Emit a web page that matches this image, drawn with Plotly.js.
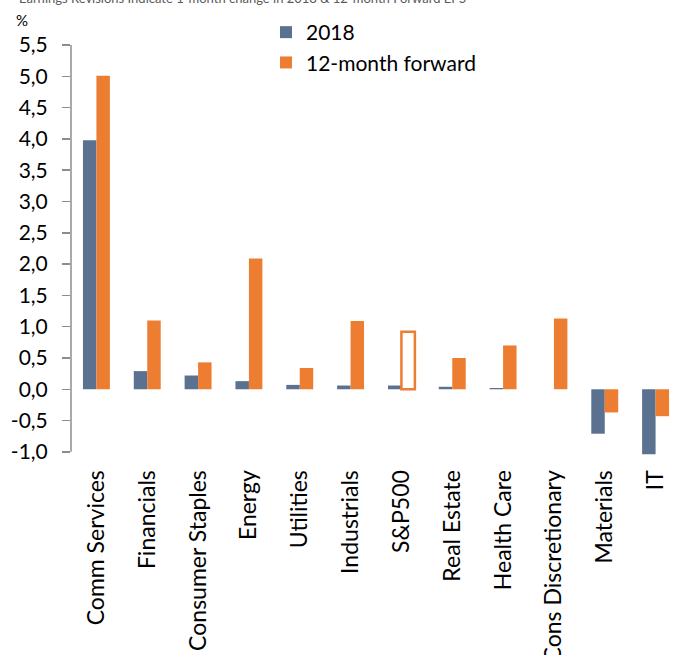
<!DOCTYPE html>
<html>
<head>
<meta charset="utf-8">
<script src="https://cdn.plot.ly/plotly-3.0.1.min.js"></script>
<style>
  html, body { margin: 0; padding: 0; background: #ffffff; }
  #chart { width: 681px; height: 655px; }
</style>
</head>
<body>
<div id="chart"></div>
<script>
// Sector EPS revisions, % change over one month
const sectors = [
  'Comm Services', 'Financials', 'Consumer Staples', 'Energy', 'Utilities',
  'Industrials', 'S&P500', 'Real Estate', 'Health Care', 'Cons Discretionary',
  'Materials', 'IT'
];
const eps2018 = [3.98, 0.29, 0.22, 0.13, 0.07, 0.06, 0.06, 0.04, 0.02, 0.0, -0.71, -1.04];
const eps12mFwd = [5.01, 1.10, 0.43, 2.09, 0.34, 1.09, 0.92, 0.50, 0.70, 1.13, -0.37, -0.43];
const yTicks = [-1.0, -0.5, 0.0, 0.5, 1.0, 1.5, 2.0, 2.5, 3.0, 3.5, 4.0, 4.5, 5.0, 5.5];
const yTickText = yTicks.map(v => v.toFixed(1).replace('.', ','));

const FONT = 'Lato, "Open Sans", sans-serif';
const BLUE = '#5b7190';
const ORANGE = '#ed7d31';
const AXIS_GREY = '#8c8c8c';

// The index average is drawn as a hollow bar
const fwdFill = sectors.map(s => (s === 'S&P500' ? '#ffffff' : ORANGE));
const fwdLine = sectors.map(s => (s === 'S&P500' ? 2.5 : 0));

// Axis runs from -1 to 5.5; a little room below lets the deepest bar show in full
const yAxisLow = -1.0, yAxisHigh = 5.5;
const yMin = -1.05, yMax = 5.5;
const plotTop = 45, plotBottom = 200, plotH = 655 - plotTop - plotBottom, plotL = 71, plotW = 610;

const idx = sectors.map((_, i) => i);
const boundaries = [-0.5].concat(idx.map(i => i + 0.5));

const traces = [
  {
    type: 'bar', name: '2018', x: sectors, y: eps2018,
    marker: { color: BLUE, line: { width: 0 } }
  },
  {
    type: 'bar', name: '12-month forward', x: sectors, y: eps12mFwd,
    marker: { color: fwdFill, line: { color: ORANGE, width: fwdLine } }
  }
];

const layout = {
  width: 681, height: 655,
  margin: { l: plotL, r: 0, t: plotTop, b: plotBottom },
  paper_bgcolor: '#ffffff', plot_bgcolor: '#ffffff',
  font: { family: FONT, size: 20, color: '#000000' },
  barmode: 'group', bargap: 0.47, bargroupgap: 0,
  showlegend: true,
  legend: {
    x: (266 - plotL) / plotW, y: 1 + (plotTop - 12) / plotH, xanchor: 'left', yanchor: 'top',
    font: { family: FONT, size: 21, color: '#000000' },
    tracegroupgap: 0, itemclick: false, bgcolor: 'rgba(0,0,0,0)'
  },
  xaxis: {
    type: 'category', categoryorder: 'array', categoryarray: sectors,
    range: [-0.5, sectors.length - 0.5],
    showline: false, showgrid: false, zeroline: false,
    ticks: 'outside', ticklen: 5, tickcolor: 'rgba(0,0,0,0)',
    tickangle: -90, tickfont: { family: FONT, size: 23, color: '#000000' },
    fixedrange: true
  },
  xaxis2: {
    overlaying: 'x', anchor: 'free', position: (0 - yMin) / (yMax - yMin),
    type: 'linear', range: [-0.5, sectors.length - 0.5],
    tickmode: 'array', tickvals: boundaries,
    showticklabels: false, showgrid: false, zeroline: false,
    showline: true, linecolor: AXIS_GREY, linewidth: 2,
    ticks: 'outside', ticklen: 8, tickwidth: 2, tickcolor: AXIS_GREY,
    fixedrange: true
  },
  yaxis: {
    range: [yMin, yMax], tickmode: 'array', tickvals: yTicks, ticktext: yTickText,
    showgrid: false, zeroline: false, showline: false,
    ticks: 'outside', ticklen: 8, tickwidth: 1.5, tickcolor: AXIS_GREY,
    ticklabelstandoff: 10,
    tickfont: { family: FONT, size: 21, color: '#000000' },
    fixedrange: true
  },
  shapes: [
    {
      type: 'line', xref: 'paper', yref: 'y', x0: 0, x1: 0, y0: yAxisLow, y1: yAxisHigh,
      line: { color: AXIS_GREY, width: 1.5 }
    }
  ],
  annotations: [
    {
      text: 'Earnings Revisions Indicate 1-month change in 2018 & 12-month Forward EPS',
      xref: 'paper', yref: 'paper', x: (17 - plotL) / plotW, y: 1 + (plotTop + 1.5) / plotH,
      xanchor: 'left', yanchor: 'middle', showarrow: false,
      font: { family: FONT, size: 13, color: '#595959' }
    },
    {
      text: '%', xref: 'paper', yref: 'paper', x: (22 - plotL) / plotW, y: 1 + (plotTop - 20) / plotH,
      xanchor: 'center', yanchor: 'middle', showarrow: false,
      font: { family: FONT, size: 15, color: '#000000' }
    }
  ]
};

Plotly.newPlot('chart', traces, layout, { displayModeBar: false, staticPlot: true });
</script>
</body>
</html>
